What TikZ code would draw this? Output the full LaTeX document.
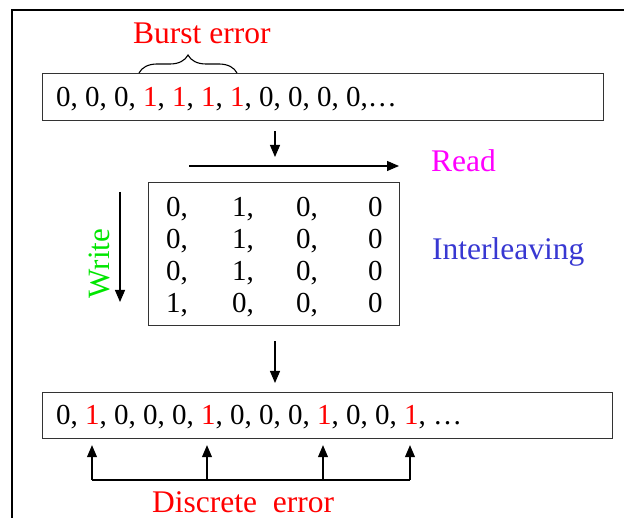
\documentclass[tikz,border=0pt]{standalone}
\usepackage{fontspec}
\setmainfont{Liberation Serif}
\usetikzlibrary{arrows.meta,decorations.pathreplacing}

\definecolor{errred}{RGB}{255,0,0}
\definecolor{readmag}{RGB}{255,0,255}
\definecolor{writegreen}{RGB}{0,230,0}
\definecolor{ilblue}{RGB}{56,56,210}

\tikzset{
  seqbox/.style={draw=black!80, line width=1.2pt, inner sep=0pt, anchor=north west},
  digits/.style={font=\fontsize{29}{34}\selectfont, inner sep=0pt, anchor=base west},
  label/.style={font=\fontsize{31.5}{36}\selectfont, inner sep=0pt, anchor=base west},
  arr/.style={line width=1.1pt, -{Triangle[length=12pt,width=10pt]}},
}
\newcommand{\one}{\textcolor{errred}{1}}

\begin{document}
\begin{tikzpicture}[x=1pt,y=-1pt]
\useasboundingbox (0,0) rectangle (624,518);

% outer frame (left and top edges)
\draw[line width=2.5pt] (12,518) -- (12,10) -- (624,10);

% input sequence with the burst
\node[seqbox, minimum width=561pt, minimum height=47pt] (top) at (42,73) {};
\node[digits] (topseq) at (56,107) {0, 0, 0, \one, \one, \one, \one, 0, 0, 0, 0,\dots};
\draw[line width=1.1pt, decorate, decoration={brace, amplitude=18pt}] (139,73) -- (237,73);
\node[label, text=errred] (burst) at (133,43.5) {Burst error};

% interleaving matrix
\node[seqbox, minimum width=251pt, minimum height=143pt] (mat) at (148,182) {};
\foreach \r/\y in {1/217,2/249,3/281,4/313}{
  \ifnum\r<4
    \node[digits] (m\r a) at (166,\y) {0,};
    \node[digits] (m\r b) at (232,\y) {1,};
  \else
    \node[digits] (m\r a) at (166,\y) {1,};
    \node[digits] (m\r b) at (232,\y) {0,};
  \fi
  \node[digits] (m\r c) at (296,\y) {0,};
  \node[digits] (m\r d) at (368,\y) {0};
}
\node[label, text=readmag] (read) at (431,172) {Read};
\node[label, text=ilblue] (inter) at (432,260) {Interleaving};
\node[font=\fontsize{31}{34}\selectfont, text=writegreen, inner sep=0pt,
      anchor=base, rotate=90] (write) at (109.5,263.5) {Write};

% read and write directions
\coordinate (rs) at (189,166);
\coordinate (re) at (399,166);
\draw[arr] (rs) -- (re);
\coordinate (ws) at (120,192);
\coordinate (we) at (120,302);
\draw[arr] (ws) -- (we);

% output sequence
\node[seqbox, minimum width=570pt, minimum height=46pt] (bot) at (42,392) {};
\node[digits] (botseq) at (56,425) {0, \one, 0, 0, 0, \one, 0, 0, 0, \one, 0, 0, \one, \dots};

% flow arrows
\coordinate (t1) at (275,157);
\draw[arr, shorten <=10pt] (top.south -| t1) -- (t1);
\draw[arr, shorten <=15pt, shorten >=9pt] (mat.south -| t1) -- (bot.north -| t1);

% isolated errors after de-interleaving
\foreach \i/\x in {1/92,2/207,3/323,4/410}{
  \coordinate (c\i) at (\x,480);
  \draw[arr, shorten >=6pt] (c\i) -- (bot.south -| c\i);
}
\draw[line width=1.1pt] (c1) -- (c4);
\node[label, text=errred] (disc) at (152,512) {Discrete\ \ error};
\end{tikzpicture}
\end{document}
